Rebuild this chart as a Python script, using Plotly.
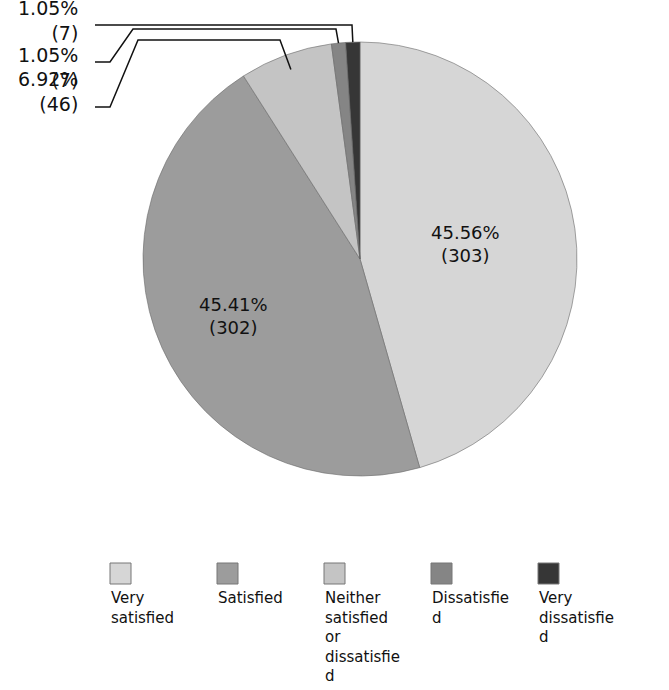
import math
import plotly.graph_objects as go

# ---- data ----
categories = ["Very satisfied", "Satisfied", "Neither satisfied or dissatisfied",
              "Dissatisfied", "Very dissatisfied"]
counts = [303, 302, 46, 7, 7]
legend_labels = ["Very<br>satisfied", "Satisfied", "Neither<br>satisfied<br>or<br>dissatisfie<br>d",
                 "Dissatisfie<br>d", "Very<br>dissatisfie<br>d"]

# ---- style ----
colors = ["#d6d6d6", "#9c9c9c", "#c4c4c4", "#858585", "#363636"]
W, H = 669, 690
CX, CY, R = 360, 259, 217  # pie centre / radius in pixels
FONT = "DejaVu Sans"

total = sum(counts)

fig = go.Figure(go.Pie(
    labels=categories, values=counts, sort=False, direction="clockwise", rotation=0,
    marker=dict(colors=colors, line=dict(color="#6a6a6a", width=0.6)),
    textinfo="none",
    domain=dict(x=[(CX - R) / W, (CX + R) / W], y=[1 - (CY + R) / H, 1 - (CY - R) / H]),
    showlegend=False, hoverinfo="label+value+percent",
))

def px2paper(x, y):
    return x / W, 1 - y / H

cum = 0
mids = []
for v in counts:
    mids.append((cum + v / 2) / total * 360)
    cum += v

shapes = []
annotations = []

# inside labels for the two large slices (placed along the slice mid-angle)
inside = {0: 0.49, 1: 0.64}
for i, frac in inside.items():
    ang = math.radians(mids[i])
    x = CX + R * frac * math.sin(ang)
    y = CY - R * frac * math.cos(ang)
    px, py = px2paper(x, y)
    pct = counts[i] / total * 100
    annotations.append(dict(text=f"{pct:.2f}%<br>({counts[i]})", x=px, y=py,
                            xref="paper", yref="paper", xanchor="center", yanchor="middle",
                            align="center", showarrow=False,
                            font=dict(family=FONT, size=18, color="#111")))

# outside labels with elbow leader lines for small slices
outer = {
    4: dict(label_y=20, frac=1.0, path=[(95, 25), (352, 25)]),
    3: dict(label_y=67, frac=1.0, path=[(95, 62), (110, 62), (133, 29), (336, 29)]),
    2: dict(label_y=92, frac=0.93, path=[(95, 107), (110, 107), (138, 40), (280, 40)]),
}
for i, spec in outer.items():
    ang = math.radians(mids[i])
    ex = CX + R * spec["frac"] * math.sin(ang)
    ey = CY - R * spec["frac"] * math.cos(ang)
    pts = spec["path"] + [(ex, ey)]
    d = ""
    for k, (x, y) in enumerate(pts):
        px, py = px2paper(x, y)
        d += ("M" if k == 0 else " L") + f" {px:.5f},{py:.5f}"
    shapes.append(dict(type="path", path=d, xref="paper", yref="paper",
                       line=dict(color="#111", width=1.5)))
    pct = counts[i] / total * 100
    lx, ly = px2paper(80, spec["label_y"])
    annotations.append(dict(text=f"{pct:.2f}%<br>({counts[i]})", x=lx, y=ly,
                            xref="paper", yref="paper", xanchor="right", yanchor="middle",
                            align="right", showarrow=False,
                            font=dict(family=FONT, size=19, color="#111")))

# custom legend: swatch above wrapped label
leg_x0, leg_dx, sw_top, sw_size = 110, 107, 563, 21
for i, lab in enumerate(legend_labels):
    x = leg_x0 + i * leg_dx
    x0, y0 = px2paper(x, sw_top)
    x1, y1 = px2paper(x + sw_size, sw_top + sw_size)
    shapes.append(dict(type="rect", xref="paper", yref="paper", x0=x0, x1=x1, y0=y1, y1=y0,
                       fillcolor=colors[i], line=dict(color="#777", width=1)))
    tx, ty = px2paper(x - 1, sw_top + sw_size + 3)
    annotations.append(dict(text=lab, x=tx, y=ty, xref="paper", yref="paper",
                            xanchor="left", yanchor="top", align="left", showarrow=False,
                            font=dict(family=FONT, size=15, color="#111")))

fig.update_layout(width=W, height=H, margin=dict(l=0, r=0, t=0, b=0),
                  paper_bgcolor="white", plot_bgcolor="white",
                  shapes=shapes, annotations=annotations)
fig.write_html("out.html", config={"displayModeBar": False},
               post_script="document.body.style.margin='0';")
